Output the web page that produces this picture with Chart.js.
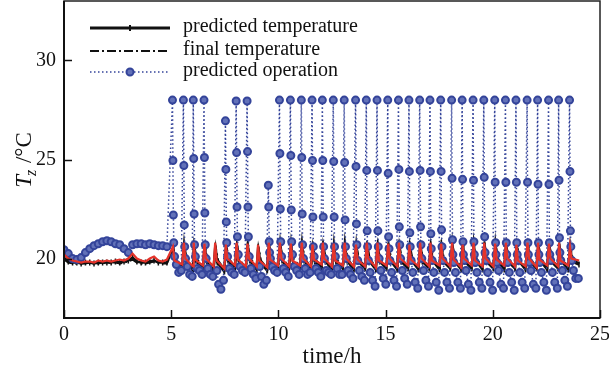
<!DOCTYPE html>
<html>
<head>
<meta charset="utf-8">
<script src="https://cdn.jsdelivr.net/npm/chart.js@4.4.1/dist/chart.umd.min.js"></script>
<style>
html, body { margin: 0; padding: 0; background: #fff; }
#wrap { width: 609px; height: 367px; position: relative; }
</style>
</head>
<body>
<div id="wrap"><canvas id="tempChart"></canvas></div>
<script>
// axis ticks
var xTicks = [0, 5, 10, 15, 20, 25];
var yTicks = [20, 25, 30];

// 0-5 h: smooth part, sampled every 0.2 h
var earlyTime  = [0, 0.2, 0.4, 0.6, 0.8, 1.0, 1.2, 1.4, 1.6, 1.8, 2.0, 2.2, 2.4, 2.6, 2.8, 3.0, 3.2, 3.4, 3.6, 3.8, 4.0, 4.2, 4.4, 4.6, 4.8];
var earlyOp    = [20.45, 20.25, 20.0, 19.95, 20.05, 20.3, 20.5, 20.65, 20.75, 20.85, 20.9, 20.85, 20.75, 20.7, 20.5, 20.3, 20.7, 20.75, 20.75, 20.7, 20.75, 20.7, 20.65, 20.65, 20.6];
var earlyRed   = [20.2, 20.0, 19.9, 19.85, 19.8, 19.85, 19.85, 19.8, 19.9, 19.85, 19.9, 19.85, 19.9, 19.95, 19.9, 20.0, 20.25, 20.0, 19.9, 19.85, 20.0, 20.1, 19.9, 19.85, 19.95];
var earlyPred  = [20.05, 19.85, 19.8, 19.8, 19.75, 19.8, 19.8, 19.75, 19.8, 19.8, 19.8, 19.8, 19.85, 19.8, 19.85, 19.9, 20.05, 19.85, 19.8, 19.8, 19.85, 19.9, 19.8, 19.8, 19.8];
var earlyFinal = [19.95, 19.8, 19.75, 19.75, 19.75, 19.75, 19.8, 19.75, 19.75, 19.8, 19.75, 19.8, 19.8, 19.75, 19.8, 19.85, 19.95, 19.8, 19.75, 19.75, 19.8, 19.85, 19.8, 19.75, 19.75];

// 5-24 h: one switching cycle every ~0.5 h
var cycleStart = [5.06, 5.57, 6.03, 6.53, 7.03, 7.53, 8.03, 8.54, 9.03, 9.53, 10.05, 10.56, 11.07, 11.57, 12.05, 12.56, 13.07, 13.6, 14.1, 14.6, 15.1, 15.6, 16.09, 16.59, 17.07, 17.57, 18.08, 18.57, 19.08, 19.58, 20.09, 20.59, 21.08, 21.6, 22.09, 22.6, 23.07, 23.58];

// predicted operation (blue)
var opTop  = [28, 28, 28, 28, null, 26.95, 27.95, 27.95, null, 23.7, 28, 28, 28, 28, 28, 28, 28, 28, 28, 28, 28, 28, 28, 28, 28, 28, 28, 28, 28, 28, 28, 28, 28, 28, 28, 28, 28, 28];
var opMid1 = [24.95, 24.7, 25.05, 25.1, null, 24.5, 25.35, 25.4, null, 22.6, 25.3, 25.2, 25.1, 24.95, 24.95, 24.9, 24.85, 24.65, 24.45, 24.45, 24.3, 24.5, 24.4, 24.45, 24.4, 24.4, 24.05, 24.0, 23.95, 24.1, 23.85, 23.85, 23.85, 23.85, 23.75, 23.75, 23.95, 24.4];
var opMid2 = [22.2, 21.7, 22.25, 22.3, null, 21.85, 22.6, 22.6, null, 20.85, 22.5, 22.45, 22.25, 22.1, 22.1, 22.1, 21.95, 21.75, 21.4, 21.4, 21.1, 21.6, 21.3, 21.6, 21.25, 21.45, 20.95, 20.85, 20.85, 21.1, 20.8, 20.8, 20.8, 20.8, 20.8, 20.8, 21.05, 21.4];
var opMid3 = [20.8, 20.6, 20.7, 20.7, null, 20.8, 21.1, 21.1, null, 20.3, 20.85, 20.85, 20.7, 20.6, 20.6, 20.6, 20.6, 20.7, 20.6, 20.6, 20.5, 20.7, 20.6, 20.7, 20.5, 20.6, 20.2, 20.2, 20.2, 20.3, 20.2, 20.2, 20.2, 20.2, 20.2, 20.2, 20.3, 20.6];
var opLow0 = [20.1, 20.0, 20.1, 20.0, 19.4, 20.1, 20.2, 20.1, 19.6, 20.0, 20.1, 20.2, 20.0, 20.1, 20.0, 20.1, 20.0, 19.9, 19.9, 20.0, 19.9, 20.0, 19.9, 20.0, 19.9, 19.9, 19.8, 19.9, 19.8, 19.9, 19.8, 19.8, 19.9, 19.8, 19.8, 19.9, 19.9, 19.9];
var opLow1 = [19.7, 19.6, 19.5, 19.5, 18.7, 19.5, 19.6, 19.5, 19.1, 19.6, 19.5, 19.6, 19.5, 19.5, 19.4, 19.5, 19.4, 19.4, 19.3, 19.4, 19.3, 19.4, 19.3, 19.4, 19.3, 19.3, 19.3, 19.4, 19.3, 19.3, 19.4, 19.3, 19.3, 19.4, 19.3, 19.3, 19.4, 19.4];
var opLow2 = [19.3, 19.2, 19.4, 19.2, 18.45, 19.3, 19.4, 19.2, 18.7, 19.4, 19.3, 19.4, 19.2, 19.3, 19.3, 19.2, 19.2, 19.1, 18.9, 19.0, 18.9, 19.0, 18.8, 18.9, 18.8, 18.8, 18.8, 18.7, 18.8, 18.8, 18.7, 18.8, 18.8, 18.7, 18.8, 18.8, 18.9, 19.0];
var opLow3 = [19.4, 19.1, 19.2, 19.1, 18.9, 19.2, 19.3, 19.0, 18.9, 19.3, 19.1, 19.2, 19.3, 19.1, 19.2, 19.2, 19.0, 18.9, 18.6, 18.7, 18.6, 18.7, 18.5, 18.6, 18.4, 18.5, 18.5, 18.4, 18.5, 18.4, 18.5, 18.4, 18.5, 18.5, 18.4, 18.5, 18.6, 19.0];

// red curve
var redHigh = [20.6, 20.8, 20.8, 20.75, 20.8, 20.7, 20.8, 20.75, 20.7, 20.8, 20.8, 20.75, 20.8, 20.7, 20.8, 20.75, 20.8, 20.7, 20.8, 20.8, 20.75, 20.8, 20.7, 20.8, 20.8, 20.75, 20.8, 20.7, 20.8, 20.8, 20.75, 20.8, 20.7, 20.8, 20.8, 20.75, 20.8, 20.6];
var redMid  = [19.9, 20.0, 19.95, 20.0, 19.9, 20.0, 19.95, 20.0, 19.9, 19.95, 20.0, 19.9, 20.0, 19.95, 20.0, 19.9, 20.0, 19.95, 20.0, 19.9, 20.0, 20.0, 19.95, 20.0, 19.9, 20.0, 19.95, 20.0, 19.9, 20.0, 19.95, 20.0, 19.9, 20.0, 19.95, 20.0, 19.9, 20.0];
var redLow  = [19.7, 19.6, 19.65, 19.6, 19.5, 19.65, 19.6, 19.6, 19.55, 19.65, 19.6, 19.65, 19.6, 19.7, 19.6, 19.65, 19.6, 19.6, 19.55, 19.65, 19.6, 19.65, 19.6, 19.6, 19.65, 19.6, 19.55, 19.65, 19.6, 19.6, 19.65, 19.6, 19.6, 19.55, 19.65, 19.6, 19.65, 19.9];

// predicted temperature (black solid)
var predHigh = [20.5, 20.7, 20.75, 20.7, 20.65, 20.7, 20.75, 20.7, 20.6, 20.7, 20.75, 20.7, 20.75, 20.7, 20.75, 20.7, 20.75, 20.7, 20.75, 20.8, 20.75, 20.8, 20.75, 20.8, 20.75, 20.8, 20.75, 20.8, 20.75, 20.8, 20.75, 20.8, 20.75, 20.8, 20.75, 20.8, 20.75, 20.6];
var predMid  = [19.8, 19.85, 19.9, 19.85, 19.8, 19.9, 19.85, 19.9, 19.8, 19.85, 19.9, 19.85, 19.9, 19.85, 19.9, 19.85, 19.9, 19.85, 19.9, 19.85, 19.9, 19.85, 19.9, 19.85, 19.9, 19.85, 19.9, 19.85, 19.9, 19.85, 19.9, 19.85, 19.9, 19.85, 19.9, 19.85, 19.9, 19.85];
var predLow  = [19.45, 19.4, 19.45, 19.4, 19.35, 19.45, 19.4, 19.45, 19.4, 19.45, 19.45, 19.5, 19.45, 19.5, 19.45, 19.5, 19.45, 19.5, 19.45, 19.5, 19.45, 19.5, 19.45, 19.5, 19.45, 19.5, 19.45, 19.5, 19.45, 19.5, 19.45, 19.5, 19.45, 19.5, 19.45, 19.5, 19.45, 19.7];

// final temperature (black dash-dot)
var finalHigh = [20.55, 20.65, 20.7, 20.65, 20.6, 20.65, 20.7, 20.65, 20.55, 20.65, 20.7, 20.65, 20.7, 20.65, 20.7, 20.65, 20.7, 20.65, 20.7, 20.7, 20.7, 20.7, 20.7, 20.7, 20.7, 20.7, 20.7, 20.7, 20.7, 20.7, 20.7, 20.7, 20.7, 20.7, 20.7, 20.7, 20.7, 20.55];
var finalMid  = [19.9, 19.95, 20.0, 19.95, 19.9, 20.0, 19.95, 20.0, 19.9, 19.95, 20.0, 19.95, 20.0, 19.95, 20.0, 19.95, 20.0, 19.95, 20.0, 19.95, 20.0, 19.95, 20.0, 19.95, 20.0, 19.95, 20.0, 19.95, 20.0, 19.95, 20.0, 19.95, 20.0, 19.95, 20.0, 19.95, 20.0, 19.95];
var finalLow  = [19.55, 19.5, 19.55, 19.5, 19.45, 19.55, 19.5, 19.55, 19.5, 19.55, 19.55, 19.6, 19.55, 19.6, 19.55, 19.6, 19.55, 19.6, 19.55, 19.6, 19.55, 19.6, 19.55, 19.6, 19.55, 19.6, 19.55, 19.6, 19.55, 19.6, 19.55, 19.6, 19.55, 19.6, 19.55, 19.6, 19.55, 19.75];

var legendLabels = ['predicted temperature', 'final temperature', 'predicted operation'];

// build point lists
function earlyPoints(vals) {
    return earlyTime.map(function (t, i) { return { x: t, y: vals[i] }; });
}

function cyclePoints(start, parts) {
    // parts: [[time offset inside the cycle, values], ...]
    var pts = [];
    cycleStart.forEach(function (t, k) {
        parts.forEach(function (p) {
            var v = p[1][k];
            if (v !== null) pts.push({ x: t + p[0], y: v });
        });
    });
    return start.concat(pts);
}

var opData = cyclePoints(earlyPoints(earlyOp), [
    [0, opTop], [0.02, opMid1], [0.04, opMid2], [0.06, opMid3],
    [0.1, opLow0], [0.18, opLow1], [0.29, opLow2], [0.41, opLow3]
]);
var redData = cyclePoints(earlyPoints(earlyRed), [
    [0.02, redHigh], [0.09, redMid], [0.45, redLow]
]);
var predData = cyclePoints(earlyPoints(earlyPred), [
    [0.03, predHigh], [0.12, predMid], [0.44, predLow]
]);
var finalData = cyclePoints(earlyPoints(earlyFinal), [
    [0.04, finalHigh], [0.16, finalMid], [0.46, finalLow]
]);

var serif = "'Liberation Serif', 'Times New Roman', serif";

var decor = {
    id: 'decor',
    afterDatasetsDraw: function (chart) {
        var ctx = chart.ctx, a = chart.chartArea;
        var xs = chart.scales.x, ys = chart.scales.y;
        function seg(x1, y1, x2, y2) { ctx.beginPath(); ctx.moveTo(x1, y1); ctx.lineTo(x2, y2); ctx.stroke(); }
        ctx.save();
        ctx.setLineDash([]);
        // frame
        ctx.strokeStyle = '#222';
        ctx.lineWidth = 1.5;
        ctx.strokeRect(a.left, a.top, a.right - a.left, a.bottom - a.top);
        ctx.lineWidth = 2;
        ctx.strokeStyle = '#111';
        seg(a.left, a.top, a.left, a.bottom + 1);
        seg(a.left - 1, a.bottom, a.right, a.bottom);
        // inward ticks
        ctx.lineWidth = 1.5;
        xTicks.forEach(function (v) {
            var px = Math.round(xs.getPixelForValue(v)) + 0.5;
            seg(px, a.bottom, px, a.bottom - 8);
        });
        yTicks.forEach(function (v) {
            var py = Math.round(ys.getPixelForValue(v)) + 0.5;
            seg(a.left, py, a.left + 8, py);
        });

        // legend
        var ds = chart.data.datasets;
        var rows = [28, 51, 72];
        var x1 = 90, x2 = 170, xm = 130;
        for (var i = 0; i < 3; i++) {
            var d = ds[i], y = rows[i];
            ctx.strokeStyle = d.borderColor;
            ctx.lineWidth = i === 0 ? 3 : d.borderWidth;
            ctx.setLineDash(d.borderDash || []);
            seg(x1, y, x2, y);
            ctx.setLineDash([]);
            if (i === 0) {
                ctx.lineWidth = 2;
                seg(xm, y - 3, xm, y + 3);
            } else if (i === 2) {
                ctx.beginPath();
                ctx.arc(xm, y, d.pointRadius, 0, Math.PI * 2);
                ctx.fillStyle = d.pointBackgroundColor;
                ctx.fill();
                ctx.lineWidth = d.pointBorderWidth;
                ctx.strokeStyle = d.pointBorderColor;
                ctx.stroke();
            }
            ctx.fillStyle = '#111';
            ctx.font = '20px ' + serif;
            ctx.textBaseline = 'middle';
            ctx.textAlign = 'left';
            ctx.fillText(legendLabels[i], 183, y - 1);
        }

        // x title
        ctx.font = '23px ' + serif;
        ctx.textAlign = 'center';
        ctx.textBaseline = 'alphabetic';
        ctx.fillText('time/h', (a.left + a.right) / 2, 363);

        // y title: T_z /°C
        ctx.translate(31, 160);
        ctx.rotate(-Math.PI / 2);
        ctx.textAlign = 'left';
        var fT = 'italic 23px ' + serif, fz = 'italic 16px ' + serif, fr = '23px ' + serif;
        ctx.font = fT; var wT = ctx.measureText('T').width;
        ctx.font = fz; var wz = ctx.measureText('z').width;
        ctx.font = fr; var wr = ctx.measureText(' /\u00b0C').width;
        var x0 = -(wT + wz + wr) / 2;
        ctx.font = fT; ctx.fillText('T', x0, 0);
        ctx.font = fz; ctx.fillText('z', x0 + wT - 1, 5);
        ctx.font = fr; ctx.fillText(' /\u00b0C', x0 + wT + wz, 0);
        ctx.restore();
    }
};

var ctx = document.getElementById('tempChart').getContext('2d');
var chart = new Chart(ctx, {
    type: 'line',
    data: {
        datasets: [{
            label: legendLabels[0],
            data: predData,
            borderColor: '#111',
            borderWidth: 2.5,
            pointStyle: 'line',
            pointRotation: 90,
            pointRadius: 3,
            pointBorderWidth: 1.5,
            pointBorderColor: '#111',
            order: 2
        },
        {
            label: legendLabels[1],
            data: finalData,
            borderColor: '#111',
            borderWidth: 2,
            borderDash: [9, 3, 2, 3],
            pointRadius: 0,
            order: 3
        },
        {
            label: legendLabels[2],
            data: opData,
            borderColor: '#34449a',
            borderWidth: 1.5,
            borderDash: [1.5, 2.5],
            pointRadius: 3.5,
            pointBorderWidth: 2,
            pointBackgroundColor: '#6271b8',
            pointBorderColor: '#34449a',
            order: 1
        },
        {
            label: 'red',
            data: redData,
            borderColor: '#e5332a',
            borderWidth: 2.2,
            pointRadius: 0,
            order: 0
        }]
    },
    options: {
        responsive: true,
        maintainAspectRatio: false,
        animation: false,
        events: [],
        layout: { autoPadding: false, padding: { top: 1, right: 9, left: 0, bottom: 0 } },
        plugins: { legend: { display: false }, tooltip: { enabled: false } },
        scales: {
            x: {
                type: 'linear',
                min: 0,
                max: 25,
                grid: { display: false, drawTicks: false },
                border: { display: false },
                ticks: { color: '#111', padding: 5, font: { family: serif, size: 20 } },
                afterBuildTicks: function (s) { s.ticks = xTicks.map(function (v) { return { value: v }; }); },
                afterFit: function (s) { s.height = 49; s.paddingLeft = 0; s.paddingRight = 0; }
            },
            y: {
                min: 17,
                max: 33,
                grid: { display: false, drawTicks: false },
                border: { display: false },
                ticks: { color: '#111', padding: 8, font: { family: serif, size: 20 } },
                afterBuildTicks: function (s) { s.ticks = yTicks.map(function (v) { return { value: v }; }); },
                afterFit: function (s) { s.width = 64; s.paddingTop = 0; s.paddingBottom = 0; }
            }
        }
    },
    plugins: [decor]
});
</script>
</body>
</html>
